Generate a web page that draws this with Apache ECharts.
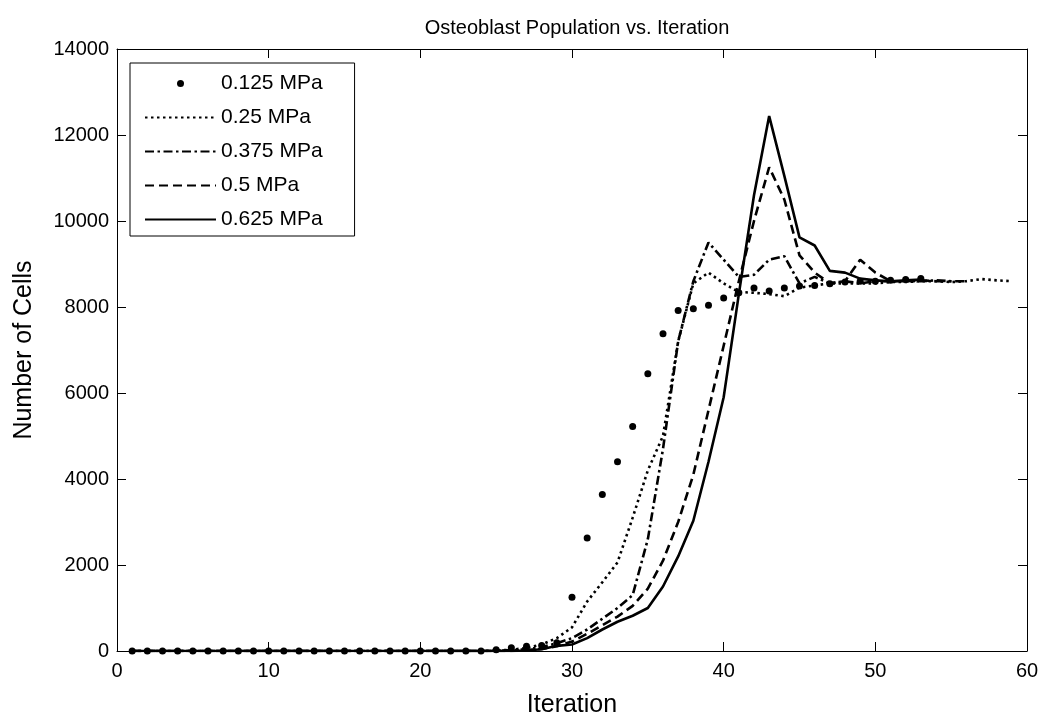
<!DOCTYPE html>
<html>
<head>
<meta charset="utf-8">
<script src="https://cdn.jsdelivr.net/npm/echarts@6/dist/echarts.min.js"></script>
<style>
html,body{margin:0;padding:0;background:#fff;}
#chart{width:1047px;height:723px;}
</style>
</head>
<body>
<div id="chart"></div>
<script>
// ---- data ----
const iterations = [1,2,3,4,5,6,7,8,9,10,11,12,13,14,15,16,17,18,19,20,21,22,23,24,25,26,27,28,29,30,31,32,33,34,35,36,37,38,39,40,41,42,43,44,45,46,47,48,49,50,51,52,53,54,55,56,57,58,59];
const seriesNames = ['0.125 MPa','0.25 MPa','0.375 MPa','0.5 MPa','0.625 MPa'];
const p0125 = [0,0,0,0,0,0,0,0,0,0,0,0,0,0,0,0,0,0,0,0,0,0,0,0,30,75,110,130,190,1250,2630,3640,4400,5220,6450,7380,7920,7960,8040,8210,8330,8440,8370,8440,8490,8500,8540,8580,8600,8600,8620,8640,8660];
const p025 = [0,0,0,0,0,0,0,0,0,0,0,0,0,0,0,0,0,0,0,0,0,0,0,0,10,30,70,150,300,550,1150,1600,2060,3100,4200,5000,7200,8550,8800,8550,8350,8330,8300,8250,8450,8500,8550,8550,8550,8550,8580,8580,8600,8600,8580,8600,8650,8620,8600];
const p0375 = [0,0,0,0,0,0,0,0,0,0,0,0,0,0,0,0,0,0,0,0,0,0,0,0,0,20,40,90,180,300,500,750,1000,1300,2600,4700,7200,8600,9500,9100,8700,8750,9100,9180,8550,8700,8550,8600,8550,8600,8600,8600,8600,8620,8600,8600];
const p05 = [0,0,0,0,0,0,0,0,0,0,0,0,0,0,0,0,0,0,0,0,0,0,0,0,0,0,20,50,110,220,400,600,800,1050,1450,2100,3000,4100,5600,7100,8600,10000,11250,10500,9200,8800,8550,8600,9100,8800,8600,8600,8620,8600,8600];
const p0625 = [0,0,0,0,0,0,0,0,0,0,0,0,0,0,0,0,0,0,0,0,0,0,0,0,0,0,10,40,120,150,300,500,680,820,1000,1500,2200,3030,4400,5900,8300,10600,12440,11050,9620,9430,8840,8800,8660,8620,8600,8620,8640];
const xTicks = [0,10,20,30,40,50,60];
const yTicks = [0,2000,4000,6000,8000,10000,12000,14000];

function pairs(vals){ return vals.map((v,i)=>[iterations[i], v]); }

const FONT = 'Liberation Sans, Arial, Helvetica, sans-serif';
const chart = echarts.init(document.getElementById('chart'), null, {renderer:'canvas'});

const axisCommon = {
  axisLine:{show:true, onZero:false, lineStyle:{color:'#000', width:1}},
  axisTick:{show:true, inside:true, length:9, lineStyle:{color:'#000', width:1}},
  splitLine:{show:false}
};

const hiddenSymbol = {opacity:0};

const option = {
  backgroundColor:'#fff',
  animation:false,
  title:{
    text:'Osteoblast Population vs. Iteration',
    left:572, top:13, textAlign:'center',
    textStyle:{fontFamily:FONT, fontSize:20, fontWeight:'normal', color:'#000'}
  },
  legend:{
    left:130, top:63,
    orient:'vertical',
    backgroundColor:'#fff',
    borderColor:'#000', borderWidth:1,
    padding:[10,32,6,14],
    itemWidth:71, itemHeight:7, itemGap:13,
    textStyle:{fontFamily:FONT, fontSize:21, color:'#000', lineHeight:21},
    data:[
      {name:seriesNames[0], icon:'circle', itemStyle:{color:'#000', opacity:1}},
      {name:seriesNames[1], itemStyle:hiddenSymbol},
      {name:seriesNames[2], itemStyle:hiddenSymbol},
      {name:seriesNames[3], itemStyle:hiddenSymbol},
      {name:seriesNames[4], itemStyle:hiddenSymbol}
    ]
  },
  grid:{left:117, right:20, top:49, bottom:69, containLabel:false},
  xAxis:[
    Object.assign({
      type:'value', min:xTicks[0], max:xTicks[xTicks.length-1], interval:10, position:'bottom',
      name:'Iteration', nameLocation:'middle', nameGap:42,
      nameTextStyle:{fontFamily:FONT, fontSize:25, color:'#000'},
      axisLabel:{fontFamily:FONT, fontSize:20, color:'#000', margin:10}
    }, axisCommon),
    Object.assign({
      type:'value', min:xTicks[0], max:xTicks[xTicks.length-1], interval:10, position:'top',
      axisLabel:{show:false}
    }, axisCommon)
  ],
  yAxis:[
    Object.assign({
      type:'value', min:yTicks[0], max:yTicks[yTicks.length-1], interval:2000, position:'left',
      name:'Number of Cells', nameLocation:'middle', nameGap:80,
      nameTextStyle:{fontFamily:FONT, fontSize:25, color:'#000'},
      axisLabel:{fontFamily:FONT, fontSize:20, color:'#000', margin:8, formatter:function(v){return String(v);}}
    }, axisCommon),
    Object.assign({
      type:'value', min:yTicks[0], max:yTicks[yTicks.length-1], interval:2000, position:'right',
      axisLabel:{show:false}
    }, axisCommon)
  ],
  series:[
    {name:seriesNames[0], type:'scatter', data:pairs(p0125), symbol:'circle', symbolSize:7,
     itemStyle:{color:'#000', opacity:1}, z:5},
    {name:seriesNames[1], type:'line', data:pairs(p025), symbol:'none', showSymbol:false,
     lineStyle:{color:'#000', width:2.6, type:[2.5,3.5]}, itemStyle:{color:'#000'}},
    {name:seriesNames[2], type:'line', data:pairs(p0375), symbol:'none', showSymbol:false,
     lineStyle:{color:'#000', width:2.6, type:[9,3.5,2.5,3.5]}, itemStyle:{color:'#000'}},
    {name:seriesNames[3], type:'line', data:pairs(p05), symbol:'none', showSymbol:false,
     lineStyle:{color:'#000', width:2.6, type:[9,5]}, itemStyle:{color:'#000'}},
    {name:seriesNames[4], type:'line', data:pairs(p0625), symbol:'none', showSymbol:false,
     lineStyle:{color:'#000', width:2.6, type:'solid'}, itemStyle:{color:'#000'}}
  ]
};
chart.setOption(option);
</script>
</body>
</html>
